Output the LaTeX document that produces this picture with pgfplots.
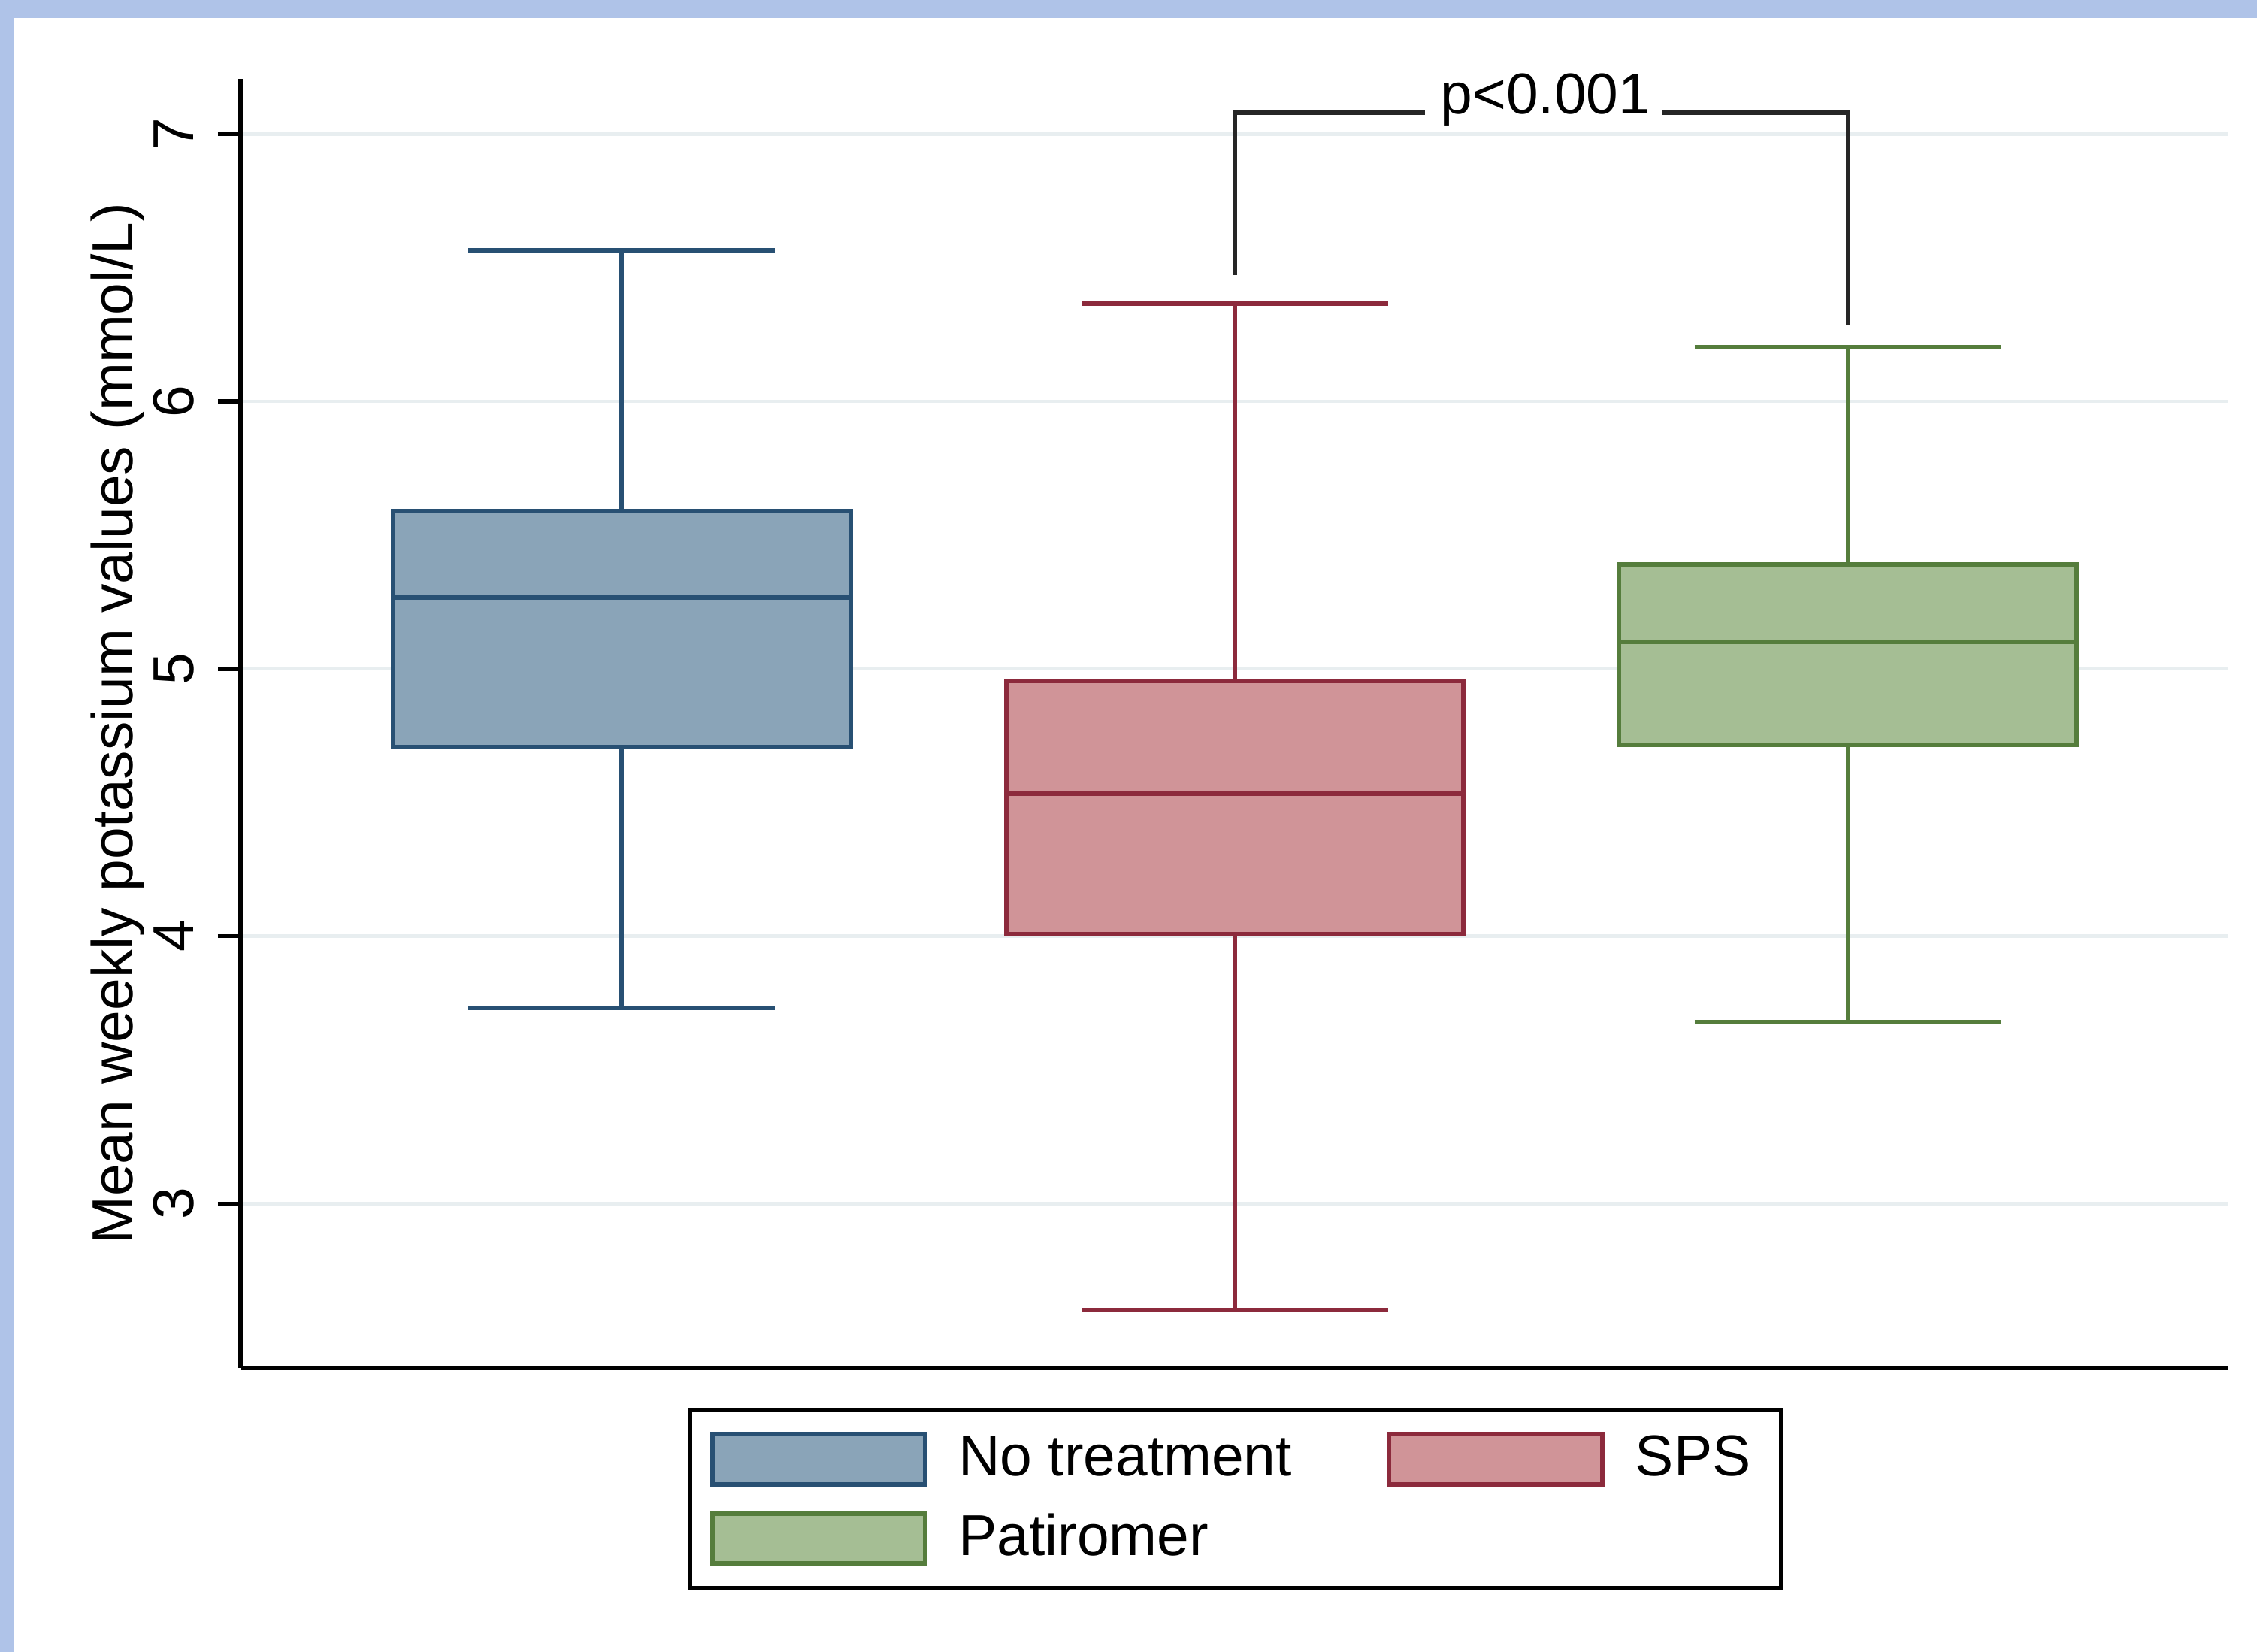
\documentclass[border=0pt]{standalone}
\usepackage{fontspec}
\setmainfont{Liberation Sans}
\usepackage{pgfplots}
\pgfplotsset{compat=1.18}
\usepgfplotslibrary{statistics}
\definecolor{frameblue}{RGB}{175,195,232}
\definecolor{navyE}{RGB}{40,80,115}
\definecolor{navyF}{RGB}{138,164,184}
\definecolor{maroonE}{RGB}{140,42,60}
\definecolor{maroonF}{RGB}{208,148,152}
\definecolor{greenE}{RGB}{85,125,60}
\definecolor{greenF}{RGB}{165,190,148}
\definecolor{gridc}{RGB}{232,238,240}
\begin{document}
\begin{tikzpicture}[font=\fontsize{11.5}{13.5}\selectfont]
% background: picture 450pt x 329.2pt ; axis SW corner at (0,0)
\fill[frameblue] (-47.93pt,-56.6pt) rectangle (402.07pt,272.7pt);
\fill[white] (-45.23pt,-56.6pt) rectangle (402.07pt,269.1pt);
\begin{axis}[
  scale only axis,
  width=396.3pt, height=256.9pt,
  at={(0,0)}, anchor=south west,
  xmin=0.378, xmax=3.620,
  ymin=2.386, ymax=7.205,
  axis lines*=left,
  axis line style={-, black, line width=0.9pt},
  xtick=\empty,
  ytick={3,4,5,6,7},
  tick align=outside,
  major tick length=4.5pt,
  tick style={black, line width=0.8pt},
  ymajorgrids,
  grid style={gridc, line width=0.7pt},
  yticklabel style={rotate=90, anchor=south, /pgf/number format/assume math mode=true, inner sep=0pt, yshift=4.6pt},
  ylabel={Mean weekly potassium values (mmol/L)},
  every axis y label/.style={at={(axis description cs:0,0.5)}, xshift=-24.4pt, rotate=90, anchor=center},
  clip=false,
  boxplot/draw direction=y,
  legend columns=2,
  legend cell align=left,
  legend style={at={(axis description cs:0.2252,-0.0315)}, anchor=north west, draw=black, line width=0.8pt,
    inner xsep=4pt, inner ysep=3pt, row sep=2.1pt,
    /tikz/every even column/.append style={column sep=16.9pt},
    nodes={inner sep=2pt}},
  legend image code/.code={\path[draw=none, fill=none] (0pt,0pt) -- (47.1pt,0pt); \draw[#1, line width=0.9pt] (0pt,-5pt) rectangle (42.5pt,5pt);},
]
\addlegendimage{draw=navyE, fill=navyF}
\addlegendentry{No treatment}
\addlegendimage{draw=maroonE, fill=maroonF}
\addlegendentry{SPS}
\addlegendimage{draw=greenE, fill=greenF}
\addlegendentry{Patiromer}

\addplot+[boxplot prepared={draw position=1, median=5.267, upper quartile=5.59, lower quartile=4.707,
  upper whisker=6.564, lower whisker=3.732, box extend=0.746, whisker extend=0.5},
  draw=navyE, fill=navyF, line width=0.9pt, solid, mark=none, forget plot] coordinates {};
\addplot+[boxplot prepared={draw position=2, median=4.534, upper quartile=4.954, lower quartile=4.007,
  upper whisker=6.365, lower whisker=2.602, box extend=0.746, whisker extend=0.5},
  draw=maroonE, fill=maroonF, line width=0.9pt, solid, mark=none, forget plot] coordinates {};
\addplot+[boxplot prepared={draw position=3, median=5.10, upper quartile=5.39, lower quartile=4.717,
  upper whisker=6.203, lower whisker=3.678, box extend=0.746, whisker extend=0.5},
  draw=greenE, fill=greenF, line width=0.9pt, solid, mark=none, forget plot] coordinates {};

\draw[black!85, line width=0.9pt] (axis cs:2,6.472) -- (axis cs:2,7.081) -- (axis cs:2.31,7.081);
\draw[black!85, line width=0.9pt] (axis cs:2.697,7.081) -- (axis cs:3,7.081) -- (axis cs:3,6.284);
\node[anchor=base, inner sep=0pt] at (axis cs:2.507,7.075) {p<0.001};
\end{axis}
\pgfresetboundingbox
\path[use as bounding box] (-47.93pt,-56.6pt) rectangle (402.07pt,272.7pt);
\end{tikzpicture}
\end{document}
